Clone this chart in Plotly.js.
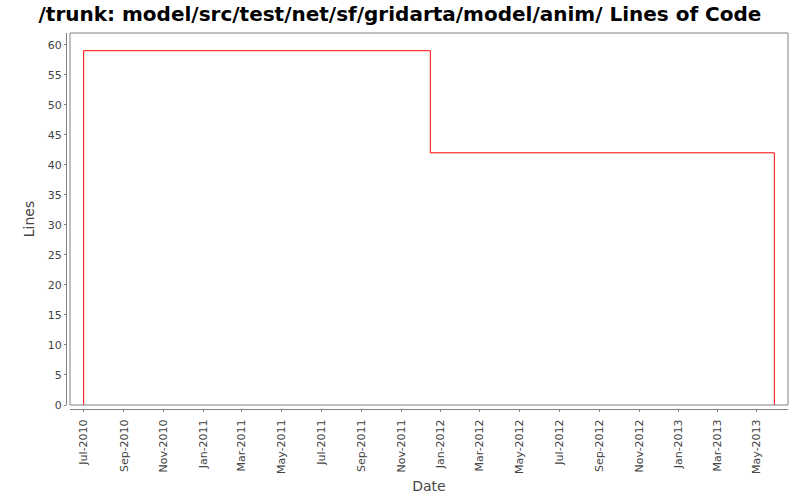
<!DOCTYPE html>
<html>
<head>
<meta charset="utf-8">
<script src="https://cdn.plot.ly/plotly-3.0.1.min.js"></script>
<style>html,body{margin:0;padding:0;background:#fff;}#chart{width:800px;height:500px;}</style>
</head>
<body>
<div id="chart"></div>
<script>
// Data (step series of lines of code)
const dates = ["2010-07-01", "2010-07-01", "2011-12-16", "2013-05-28"];
const lines = [0, 59, 42, 0];
const chartTitle = "/trunk: model/src/test/net/sf/gridarta/model/anim/ Lines of Code";
const xTitle = "Date";
const yTitle = "Lines";
const xRange = ["2010-06-10", "2013-06-18"];
const yRange = [0, 61.95];

const trace = {
  x: dates,
  y: lines,
  type: "scatter",
  mode: "lines",
  line: {shape: "hv", color: "#ff0000", width: 1},
  hoverinfo: "x+y"
};

const axisColor = "#808080";
const tickFont = {family: "DejaVu Sans, sans-serif", size: 11, color: "#444444"};
const titleFont = {family: "DejaVu Sans, sans-serif", size: 14, color: "#444444"};

const layout = {
  width: 800,
  height: 500,
  paper_bgcolor: "#ffffff",
  plot_bgcolor: "#ffffff",
  showlegend: false,
  margin: {l: 66, r: 12, t: 33, b: 91, pad: 0},
  title: {
    text: chartTitle,
    font: {family: "DejaVu Sans, sans-serif", size: 20, color: "#000000", weight: "bold"},
    x: 0.5, xref: "container", xanchor: "center",
    y: 0.973, yref: "container", yanchor: "middle"
  },
  xaxis: {
    type: "date",
    range: xRange,
    domain: [0.00554, 1],
    anchor: "free",
    position: 0,
    showgrid: false,
    zeroline: false,
    showline: true,
    linecolor: axisColor,
    linewidth: 1,
    ticks: "outside",
    ticklen: 2,
    tickcolor: axisColor,
    tick0: "2010-07-01",
    dtick: "M2",
    tickformat: "%b-%Y",
    tickangle: -90,
    tickfont: tickFont,
    ticklabelstandoff: 3,
    title: {text: xTitle, font: titleFont, standoff: 8}
  },
  yaxis: {
    range: yRange,
    domain: [0.01064, 1],
    anchor: "free",
    position: 0,
    showgrid: false,
    zeroline: false,
    showline: true,
    linecolor: axisColor,
    linewidth: 1,
    ticks: "outside",
    ticklen: 2,
    tickcolor: axisColor,
    tick0: 0,
    dtick: 5,
    tickfont: tickFont,
    title: {text: yTitle, font: titleFont, standoff: 8}
  },
  shapes: [{
    type: "rect", xref: "paper", yref: "paper",
    x0: 0.00554, x1: 1, y0: 0.01064, y1: 1,
    line: {color: axisColor, width: 1},
    fillcolor: "rgba(0,0,0,0)",
    layer: "above"
  }]
};

Plotly.newPlot("chart", [trace], layout, {displayModeBar: false, staticPlot: true});
</script>
</body>
</html>
